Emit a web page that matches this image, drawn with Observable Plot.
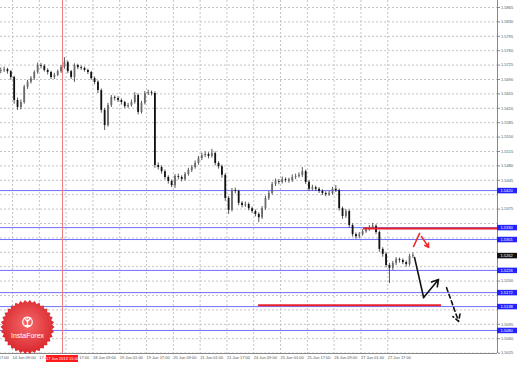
<!DOCTYPE html>
<html><head><meta charset="utf-8">
<script src="https://cdn.jsdelivr.net/npm/d3@7"></script>
<script src="https://cdn.jsdelivr.net/npm/@observablehq/plot@0.6"></script>
<style>
body{margin:0;background:#fff;}
#wrap{position:relative;width:518px;height:365px;overflow:hidden;}
#logo{position:absolute;left:0;top:0;pointer-events:none;}
</style></head><body><div id="wrap"></div>
<script>
// ---- data (GBP/USD, 2-hour candles, x in hours from chart start) ----
const opens = [
1.5710,1.5712,1.5714,1.5709,1.5695,1.5639,1.5622,1.5634,1.5671,1.5683,
1.5692,1.5707,1.5724,1.5722,1.5712,1.5707,1.5695,1.5700,1.5709,1.5719,
1.5731,1.5709,1.5695,1.5724,1.5719,1.5717,1.5712,1.5707,1.5692,1.5683,
1.5663,1.5615,1.5578,1.5627,1.5646,1.5644,1.5639,1.5634,1.5624,1.5627,
1.5634,1.5651,1.5610,1.5632,1.5656,1.5658,1.5656,1.5481,1.5476,1.5466,
1.5452,1.5442,1.5432,1.5454,1.5452,1.5447,1.5459,1.5469,1.5476,1.5486,
1.5498,1.5505,1.5508,1.5503,1.5510,1.5486,1.5478,1.5457,1.5401,1.5372,
1.5420,1.5418,1.5389,1.5384,1.5386,1.5376,1.5369,1.5362,1.5354,1.5376,
1.5401,1.5413,1.5435,1.5442,1.5440,1.5447,1.5445,1.5444,1.5452,1.5454,
1.5457,1.5466,1.5440,1.5423,1.5427,1.5423,1.5418,1.5413,1.5410,1.5413,
1.5423,1.5420,1.5376,1.5357,1.5369,1.5335,1.5313,1.5308,1.5313,1.5320,
1.5325,1.5330,1.5333,1.5318,1.5277,1.5265,1.5238,1.5231,1.5243,1.5252,
1.5250,1.5245,1.5240,1.5260];
const highs = [
1.5718,1.5720,1.5717,1.5712,1.5698,1.5645,1.5640,1.5676,1.5688,1.5697,
1.5711,1.5730,1.5729,1.5726,1.5716,1.5710,1.5705,1.5713,1.5724,1.5743,
1.5735,1.5712,1.5728,1.5727,1.5723,1.5720,1.5715,1.5710,1.5696,1.5687,
1.5667,1.5620,1.5632,1.5651,1.5650,1.5648,1.5643,1.5637,1.5632,1.5640,
1.5658,1.5655,1.5637,1.5661,1.5664,1.5662,1.5660,1.5487,1.5480,1.5470,
1.5456,1.5446,1.5459,1.5460,1.5456,1.5464,1.5474,1.5481,1.5492,1.5503,
1.5511,1.5514,1.5512,1.5520,1.5514,1.5490,1.5482,1.5461,1.5405,1.5425,
1.5426,1.5421,1.5393,1.5392,1.5390,1.5380,1.5373,1.5366,1.5381,1.5406,
1.5418,1.5440,1.5448,1.5447,1.5453,1.5451,1.5450,1.5458,1.5460,1.5463,
1.5476,1.5470,1.5444,1.5433,1.5431,1.5427,1.5422,1.5417,1.5418,1.5428,
1.5432,1.5424,1.5380,1.5374,1.5373,1.5339,1.5317,1.5318,1.5325,1.5330,
1.5335,1.5340,1.5337,1.5322,1.5281,1.5269,1.5243,1.5248,1.5257,1.5256,
1.5254,1.5249,1.5265,1.5268];
const lows = [
1.5704,1.5707,1.5703,1.5688,1.5630,1.5615,1.5616,1.5630,1.5666,1.5679,
1.5688,1.5703,1.5716,1.5708,1.5701,1.5690,1.5690,1.5697,1.5705,1.5715,
1.5704,1.5690,1.5683,1.5714,1.5712,1.5708,1.5702,1.5688,1.5677,1.5656,
1.5608,1.5566,1.5574,1.5622,1.5638,1.5634,1.5628,1.5619,1.5620,1.5623,
1.5630,1.5604,1.5606,1.5628,1.5651,1.5650,1.5474,1.5470,1.5460,1.5446,
1.5436,1.5427,1.5425,1.5446,1.5441,1.5443,1.5455,1.5464,1.5472,1.5482,
1.5493,1.5500,1.5497,1.5499,1.5480,1.5472,1.5450,1.5394,1.5362,1.5368,
1.5412,1.5383,1.5378,1.5379,1.5371,1.5364,1.5356,1.5342,1.5350,1.5372,
1.5396,1.5409,1.5430,1.5434,1.5436,1.5439,1.5438,1.5440,1.5447,1.5450,
1.5452,1.5435,1.5418,1.5419,1.5418,1.5413,1.5408,1.5405,1.5406,1.5409,
1.5415,1.5370,1.5350,1.5352,1.5329,1.5307,1.5302,1.5303,1.5309,1.5316,
1.5321,1.5326,1.5313,1.5270,1.5258,1.5232,1.5194,1.5226,1.5238,1.5244,
1.5240,1.5234,1.5236,1.5255];
const closes = [
1.5712,1.5714,1.5709,1.5695,1.5639,1.5622,1.5634,1.5671,1.5683,1.5692,
1.5707,1.5724,1.5722,1.5712,1.5707,1.5695,1.5700,1.5709,1.5719,1.5731,
1.5709,1.5695,1.5724,1.5719,1.5717,1.5712,1.5707,1.5692,1.5683,1.5663,
1.5615,1.5578,1.5627,1.5646,1.5644,1.5639,1.5634,1.5624,1.5627,1.5634,
1.5651,1.5610,1.5632,1.5656,1.5658,1.5656,1.5481,1.5476,1.5466,1.5452,
1.5442,1.5432,1.5454,1.5452,1.5447,1.5459,1.5469,1.5476,1.5486,1.5498,
1.5505,1.5508,1.5503,1.5510,1.5486,1.5478,1.5457,1.5401,1.5372,1.5420,
1.5418,1.5389,1.5384,1.5386,1.5376,1.5369,1.5362,1.5354,1.5376,1.5401,
1.5413,1.5435,1.5442,1.5440,1.5447,1.5445,1.5444,1.5452,1.5454,1.5457,
1.5466,1.5440,1.5423,1.5427,1.5423,1.5418,1.5413,1.5410,1.5413,1.5423,
1.5420,1.5376,1.5357,1.5369,1.5335,1.5313,1.5308,1.5313,1.5320,1.5325,
1.5330,1.5333,1.5318,1.5277,1.5265,1.5238,1.5231,1.5243,1.5252,1.5250,
1.5245,1.5240,1.5260,1.5262];

const tickHours = [-8, 8, 24, 40, 56, 72, 88, 104, 120, 136, 152, 168, 184, 200, 216, 232];
const tickLabels = ["13 Jun 17:00","14 Jun 09:00","17 Jun 01:00","17 Jun 17:00","18 Jun 09:00","19 Jun 01:00",
  "19 Jun 17:00","20 Jun 09:00","21 Jun 01:00","21 Jun 17:00","24 Jun 09:00","25 Jun 01:00",
  "25 Jun 17:00","26 Jun 09:00","27 Jun 01:00","27 Jun 17:00"];
const priceTicks = [1.5865,1.5830,1.5795,1.5760,1.5725,1.5690,1.5655,1.5620,1.5585,1.5550,1.5515,1.5480,
  1.5445,1.5410,1.5375,1.5340,1.5305,1.5270,1.5235,1.5200,1.5165,1.5130,1.5095,1.5060,1.5025];

const blueLevels = [1.5420, 1.5330, 1.5301, 1.5226, 1.5172, 1.5138, 1.5080];
const redLevels = [1.5328, 1.5141];
const redStartHours = [217.5, 154.9];
const redEndHours = [297.5, 264.1];
const vLineHour = 37.85;
const vLineLabel = "17 Jun 2013 15:00";
const lastPrice = 1.5262;

// forecast sketch (hours, price)
const blackLegHours = [248.0, 253.4];
const blackLegPrices = [1.5257, 1.5160];
const blackArrow = {h1: 253.4, p1: 1.5160, h2: 262.3, p2: 1.5204};
const dashedArrow = {h1: 267.1, p1: 1.5184, h2: 274.3, p2: 1.5102};
const redLegHours = [247.4, 251.0];
const redLegPrices = [1.5284, 1.5316];
const redArrow = {h1: 252.2, p1: 1.5308, h2: 256.4, p2: 1.5282};

// ---- build ----
const xMin = 0.84, xMax = 297.5, yMin = 1.5024, yMax = 1.5882;
const bars = opens.map((o, i) => ({h: 2 * i + 1, o, hi: highs[i], lo: lows[i], c: closes[i]}));
const labelOf = new Map(tickHours.map((h, i) => [h, tickLabels[i]]));
const redSegs = redLevels.map((p, i) => ({p, a: redStartHours[i], b: redEndHours[i]}));
const blackLeg = blackLegHours.map((h, i) => ({h, p: blackLegPrices[i]}));
const redLeg = redLegHours.map((h, i) => ({h, p: redLegPrices[i]}));
const pxH = (xMax - xMin) / 497; // hours per pixel
const boxW = 20 * pxH;
const boxed = blueLevels.concat([lastPrice]);
// price labels hidden under the coloured level boxes
const shownTicks = priceTicks.filter(t => !boxed.some(L => Math.abs(t - L) < 0.00105));

const chart = Plot.plot({
  width: 518, height: 365,
  marginTop: 0, marginLeft: 0, marginRight: 21, marginBottom: 12,
  style: {fontFamily: "'Liberation Sans', Arial, sans-serif", background: "#fff", overflow: "visible"},
  x: {type: "linear", domain: [xMin, xMax]},
  y: {domain: [yMin, yMax]},
  marks: [
    Plot.gridX(tickHours, {stroke: "#c4c4c4", strokeOpacity: 1, strokeDasharray: "2,2"}),
    Plot.gridY(priceTicks, {stroke: "#c4c4c4", strokeOpacity: 1, strokeDasharray: "2,2"}),
    Plot.ruleY(blueLevels, {stroke: "#6f6fff", strokeWidth: 1}),
    Plot.ruleX([vLineHour], {stroke: "#f08080", strokeWidth: 1}),
    Plot.ruleX(bars, {x: "h", y1: "lo", y2: "hi", stroke: "#222", strokeWidth: 0.75}),
    Plot.ruleX(bars, {x: "h", y1: "o", y2: "c", stroke: d => d.c >= d.o ? "#6a6a6a" : "#111", strokeWidth: 1.8}),
    Plot.ruleY(redSegs, {y: "p", x1: "a", x2: "b", stroke: "#e8202a", strokeWidth: 2}),
    Plot.line(blackLeg, {x: "h", y: "p", stroke: "#111", strokeWidth: 1.6}),
    Plot.arrow([blackArrow], {x1: "h1", y1: "p1", x2: "h2", y2: "p2", stroke: "#111", strokeWidth: 1.6, headLength: 7}),
    Plot.arrow([dashedArrow], {x1: "h1", y1: "p1", x2: "h2", y2: "p2", stroke: "#111", strokeWidth: 1.6, headLength: 7, strokeDasharray: "4,3"}),
    Plot.line(redLeg, {x: "h", y: "p", stroke: "#ee2a2a", strokeWidth: 1.6}),
    Plot.arrow([redArrow], {x1: "h1", y1: "p1", x2: "h2", y2: "p2", stroke: "#ee2a2a", strokeWidth: 1.6, headLength: 5}),
    // frame
    Plot.ruleX([xMax], {stroke: "#888"}),
    Plot.ruleY([yMin], {stroke: "#888"}),
    // axes
    Plot.axisY(shownTicks, {anchor: "right", tickSize: 2, tickPadding: 1.5, tickFormat: d => d.toFixed(4),
      fontSize: 4, fill: "#555", stroke: "#888", textAnchor: "start"}),
    Plot.axisX(tickHours, {anchor: "bottom", tickSize: 0, tickPadding: 3, tickFormat: d => labelOf.get(d),
      fontSize: 4, fill: "#555", textAnchor: "start"}),
    // price labels
    Plot.ruleY(blueLevels, {x1: xMax, x2: xMax + boxW, stroke: "#2323ff", strokeWidth: 5.5}),
    Plot.text(blueLevels, {x: xMax, y: d => d, text: d => d.toFixed(4), dx: 3, textAnchor: "start", fill: "#fff", fontSize: 4}),
    Plot.ruleY([lastPrice], {x1: xMax, x2: xMax + boxW, stroke: "#111", strokeWidth: 5.5}),
    Plot.text([lastPrice], {x: xMax, y: d => d, text: d => d.toFixed(4), dx: 3, textAnchor: "start", fill: "#fff", fontSize: 4}),
    // vertical line date label
    Plot.ruleY([yMin], {x1: vLineHour - 16 * pxH, x2: vLineHour + 16 * pxH, dy: 5, stroke: "#ff1a1a", strokeWidth: 7}),
    Plot.text([vLineLabel], {x: vLineHour, y: yMin, dy: 5, text: d => d, fill: "#fff", fontSize: 4})
  ]
});
const wrap = document.getElementById("wrap");
wrap.appendChild(chart);

// InstaForex badge (decoration)
const cx = 27.5, cy = 327, R = 27, r = 24.6, n = 34;
const pts = [];
for (let k = 0; k < 2 * n; k++) {
  const a = Math.PI * k / n, rr = k % 2 ? r : R;
  pts.push((cx + rr * Math.cos(a)).toFixed(2) + "," + (cy + rr * Math.sin(a)).toFixed(2));
}
const NS = "http://www.w3.org/2000/svg";
const logo = document.createElementNS(NS, "svg");
logo.setAttribute("id", "logo");
logo.setAttribute("width", 518);
logo.setAttribute("height", 365);
logo.innerHTML = `
<defs><radialGradient id="g" cx="50%" cy="45%" r="55%">
<stop offset="0%" stop-color="#f46a6a"/><stop offset="100%" stop-color="#d9262c"/></radialGradient></defs>
<polygon points="${pts.join(" ")}" fill="url(#g)"/>
<g fill="none" stroke="#fff" stroke-width="1.2" stroke-linecap="round">
<circle cx="${cx}" cy="${cy - 5}" r="4.8"/>
<path d="M${cx} ${cy - 7} L${cx} ${cy + 0.5} M${cx - 3.2} ${cy - 9} L${cx} ${cy - 5.5} L${cx + 3.2} ${cy - 9} M${cx - 2} ${cy - 1.5} L${cx + 2} ${cy - 1.5}"/>
</g>
<circle cx="${cx}" cy="${cy - 9.3}" r="1" fill="#fff"/>
<text x="${cx}" y="${cy + 11}" text-anchor="middle" fill="#fff" font-family="'Liberation Sans', Arial, sans-serif" font-size="7">InstaForex</text>`;
wrap.appendChild(logo);
</script></body></html>
